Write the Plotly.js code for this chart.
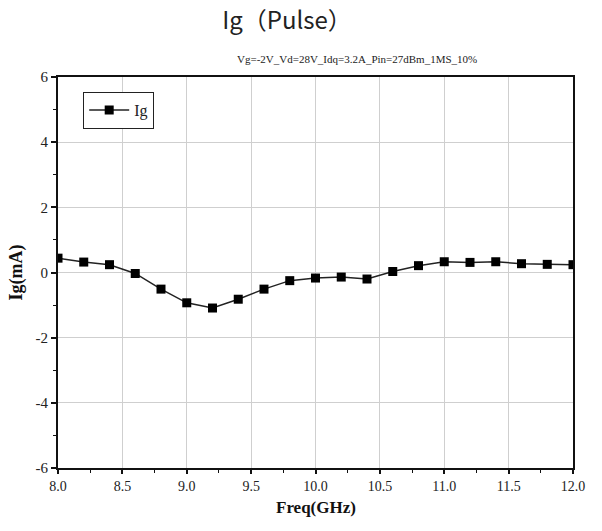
<!DOCTYPE html>
<html>
<head>
<meta charset="utf-8">
<script src="https://cdn.plot.ly/plotly-3.0.1.min.js"></script>
<style>html,body{margin:0;padding:0;background:#fff;}#chart{width:602px;height:531px;}</style>
</head>
<body>
<div id="chart"></div>
<script>
const freq = [8.0, 8.2, 8.4, 8.6, 8.8, 9.0, 9.2, 9.4, 9.6, 9.8, 10.0, 10.2, 10.4, 10.6, 10.8, 11.0, 11.2, 11.4, 11.6, 11.8, 12.0];
const ig = [0.44, 0.32, 0.24, -0.03, -0.51, -0.93, -1.09, -0.82, -0.51, -0.25, -0.17, -0.14, -0.20, 0.03, 0.21, 0.33, 0.31, 0.33, 0.27, 0.25, 0.24];
const xTickVals = [8.0, 8.5, 9.0, 9.5, 10.0, 10.5, 11.0, 11.5, 12.0];
const xTickText = ["8.0", "8.5", "9.0", "9.5", "10.0", "10.5", "11.0", "11.5", "12.0"];
const yTickVals = [-6, -4, -2, 0, 2, 4, 6];
const yTickText = ["-6", "-4", "-2", "0", "2", "4", "6"];

const serif = "Liberation Serif, DejaVu Serif, serif";

const trace = {
  x: freq, y: ig, type: 'scatter', mode: 'lines+markers', name: 'Ig',
  line: {color: '#222', width: 1.5},
  marker: {symbol: 'square', size: 9, color: '#000'}
};

const layout = {
  width: 602, height: 531,
  margin: {l: 58, r: 29, t: 77, b: 63},
  paper_bgcolor: '#fff', plot_bgcolor: '#fff',
  title: {text: 'Ig（Pulse）', font: {family: 'Noto Sans CJK SC, Noto Sans, sans-serif', size: 24, color: '#222'}, x: (287/602), xanchor: 'center', y: 1 - 21/531, yanchor: 'middle'},
  showlegend: true,
  legend: {x: (83-58)/515, y: (468-91)/392, xanchor: 'left', yanchor: 'top', bgcolor: '#fff', bordercolor: '#222', borderwidth: 1.2, font: {family: serif, size: 16, color: '#222'}, itemwidth: 40, tracegroupgap: 0},
  xaxis: {
    range: [8, 12], tickvals: xTickVals, ticktext: xTickText,
    showgrid: true, gridcolor: '#cfcfcf', gridwidth: 1,
    showline: true, linecolor: '#111', linewidth: 2, mirror: true,
    ticks: 'outside', ticklen: 4, tickwidth: 1.5, tickcolor: '#111',
    minor: {dtick: 0.25, tick0: 8, ticks: 'outside', ticklen: 3, tickwidth: 1, tickcolor: '#111', showgrid: false},
    zeroline: false,
    tickfont: {family: serif, size: 14, color: '#222'}
  },
  yaxis: {
    range: [-6, 6], tickvals: yTickVals, ticktext: yTickText,
    showgrid: true, gridcolor: '#cfcfcf', gridwidth: 1,
    showline: true, linecolor: '#111', linewidth: 2, mirror: true,
    ticks: 'outside', ticklen: 5, tickwidth: 1.5, tickcolor: '#111',
    minor: {dtick: 1, tick0: 0, ticks: 'outside', ticklen: 3, tickwidth: 1, tickcolor: '#111', showgrid: false},
    zeroline: false,
    tickfont: {family: serif, size: 15, color: '#222'},
    title: {text: '<b>Ig(mA)</b>', font: {family: serif, size: 18, color: '#111'}, standoff: 8}
  },
  annotations: [{
    text: 'Vg=-2V_Vd=28V_Idq=3.2A_Pin=27dBm_1MS_10%',
    xref: 'paper', yref: 'paper', x: (357-58)/515, y: (468-58)/392,
    xanchor: 'center', yanchor: 'middle', showarrow: false,
    font: {family: serif, size: 11, color: '#222'}
  }, {
    text: '<b>Freq(GHz)</b>',
    xref: 'paper', yref: 'paper', x: 0.5, y: (468-508)/392,
    xanchor: 'center', yanchor: 'middle', showarrow: false,
    font: {family: serif, size: 17, color: '#111'}
  }]
};

Plotly.newPlot('chart', [trace], layout, {displayModeBar: false, responsive: false});
</script>
</body>
</html>
